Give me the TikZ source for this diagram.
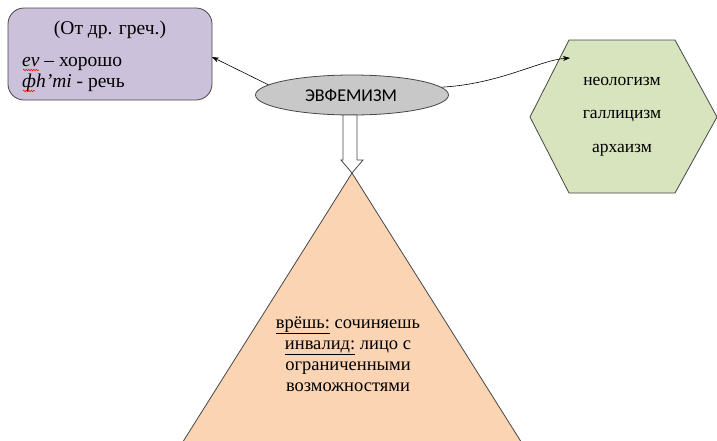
\documentclass[tikz,border=0pt]{standalone}
\usepackage{fontspec}
\setmainfont{Liberation Serif}
\newfontfamily\calib{Carlito}
\usetikzlibrary{arrows.meta,shapes.geometric,decorations.pathmorphing}
\definecolor{lav}{RGB}{204,193,218}
\definecolor{ellgray}{RGB}{200,200,200}
\definecolor{hexgreen}{RGB}{215,228,189}
\definecolor{peach}{RGB}{251,212,180}
\definecolor{edge}{RGB}{70,70,70}
\tikzset{
  txt/.style={font=\fontsize{19.5}{22}\selectfont, inner sep=0pt},
  hextxt/.style={font=\fontsize{17.5}{21}\selectfont, inner sep=0pt},
  conn/.style={draw=black, line width=0.6pt, -{Stealth[length=7pt,width=5pt]}},
  squig/.style={red, line width=0.5pt, decorate, decoration={snake, amplitude=0.8pt, segment length=2.5pt}}
}
\begin{document}
\begin{tikzpicture}[x=1pt,y=-1pt]
\useasboundingbox (0,0) rectangle (717,440);
\clip (0,0) rectangle (717,440);
% left box
\draw[fill=lav, draw=edge, line width=0.8pt, rounded corners=16pt] (8,8) rectangle (212,100);
\node[coordinate] (box) at (212,57) {};
\node[txt, anchor=base] (t1) at (110,34) {(От др. греч.)};
\node[txt, anchor=base west] (t2) at (22,66) {\textit{ev} – хорошо};
\node[txt, anchor=base west] (t3) at (22,87) {\textit{фh'mi} - речь};
\draw[squig] (23,70) -- (39,70);
\draw[squig] (23,91) -- (35,91);
% ellipse
\node[ellipse, draw=edge, fill=ellgray, line width=0.8pt, minimum width=193pt, minimum height=40pt, inner sep=0pt] (ell) at (352,95) {};
\node[font=\calib\fontsize{18}{21}\selectfont, inner sep=0pt] (elltext) at (351,96) {ЭВФЕМИЗМ};
% hexagon
\draw[fill=hexgreen, draw=edge, line width=0.8pt] (569,40) -- (675,40) -- (717,117) -- (675,193) -- (569,193) -- (530,117) -- cycle;
\node[coordinate] (hex) at (570,58) {};
\node[hextxt] (h1) at (622,81) {неологизм};
\node[hextxt] (h2) at (622,116) {галлицизм};
\node[hextxt] (h3) at (622,150) {архаизм};
% triangle
\draw[fill=peach, draw=edge, line width=0.8pt] (352,173) -- (525,448) -- (179,448) -- cycle;
\node[coordinate] (apex) at (352,173) {};
\node[inner sep=0pt, align=center, font=\fontsize{18.5}{21}\selectfont] (tri) at (348,354)
  {\underline{врёшь:} сочиняешь\\ \underline{инвалид:} лицо с\\ ограниченными\\ возможностями};
% connectors
\draw[conn] (ell.173) -- (box);
\draw[conn] (ell.5) .. controls (500,84) and (540,60) .. (hex);
% hollow block arrow
\draw[fill=white, draw=edge, line width=0.8pt] (343,115) -- (357,115) -- (357,160) -- (363,160) -- (352,173) -- (341,160) -- (343,160) -- cycle;
\end{tikzpicture}
\end{document}
